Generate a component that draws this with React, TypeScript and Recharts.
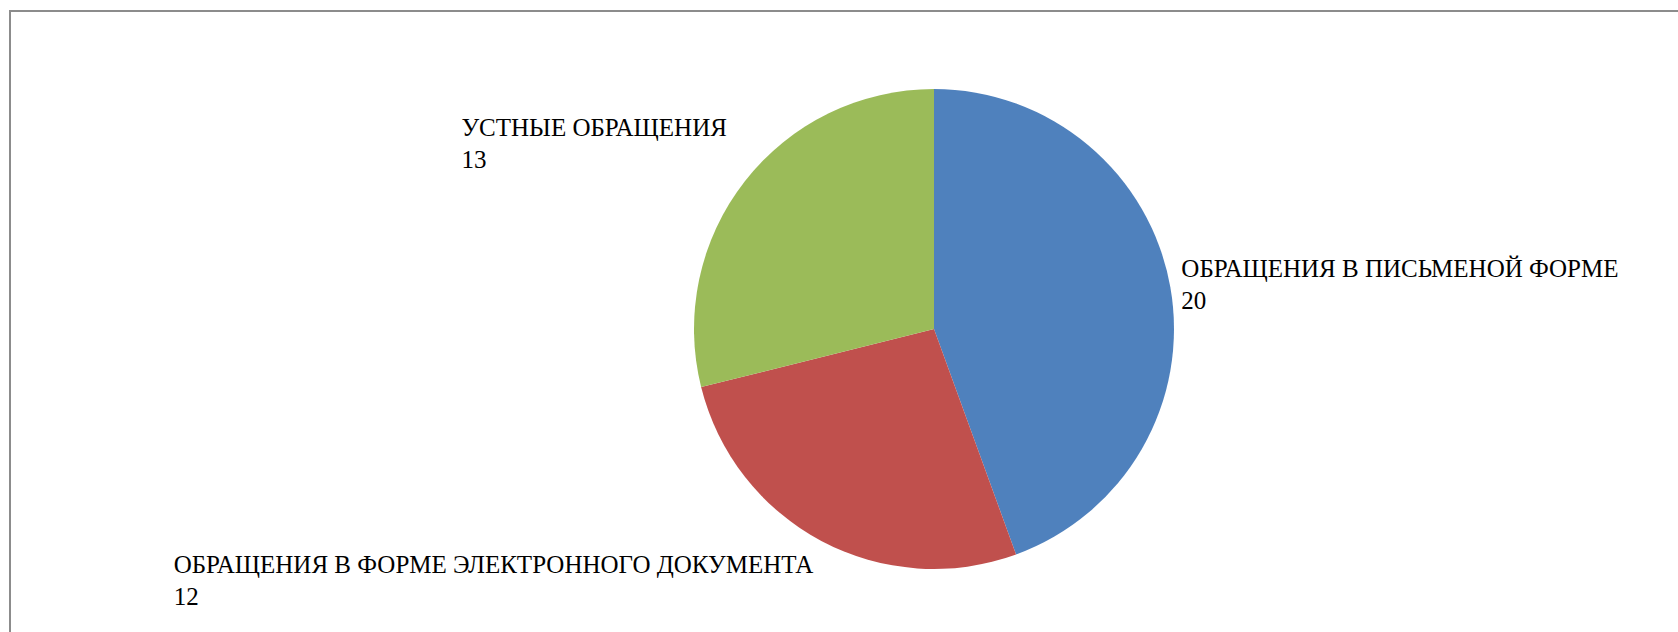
import { PieChart, Pie, Cell } from "recharts";

const categories = [
  "ОБРАЩЕНИЯ В ПИСЬМЕНОЙ ФОРМЕ",
  "ОБРАЩЕНИЯ В ФОРМЕ ЭЛЕКТРОННОГО ДОКУМЕНТА",
  "УСТНЫЕ ОБРАЩЕНИЯ",
];
const values = [20, 12, 13];
const colors = ["#4F81BD", "#C0504D", "#9BBB59"];

const data = categories.map((name, i) => ({ name, value: values[i] }));

const RAD = Math.PI / 180;
const FONT = "Liberation Serif";
const FONT_SIZE = 25;

let ctx: CanvasRenderingContext2D | null = null;
function measure(s: string) {
  if (!ctx) ctx = document.createElement("canvas").getContext("2d");
  if (!ctx) return s.length * FONT_SIZE * 0.6;
  ctx.font = `${FONT_SIZE}px "${FONT}"`;
  return ctx.measureText(s).width;
}

// Excel-style "outside end" label: name on first line, value below, left-aligned block
function renderLabel(props: any) {
  const { cx, cy, midAngle, outerRadius, name, value } = props;
  const cos = Math.cos(-midAngle * RAD);
  const sin = Math.sin(-midAngle * RAD);
  const px = cx + outerRadius * cos;
  const py = cy + outerRadius * sin;
  const w = Math.max(measure(name), measure(String(value)));
  const x = cos >= 0 ? px + 11 : px - (sin < 0 ? 18 : 8) - w;
  const lh = 32;
  let y0: number; // baseline of first line
  if (sin < -0.5) y0 = py - 45; // upper slice, block above
  else if (sin > 0.5) y0 = py + 32; // lower slice, block below
  else y0 = py - 10;
  return (
    <text x={x} y={y0} textAnchor="start" fill="#000" fontFamily={FONT} fontSize={FONT_SIZE}>
      <tspan x={x}>{name}</tspan>
      <tspan x={x} dy={lh}>{value}</tspan>
    </text>
  );
}

export default function App() {
  return (
    <div style={{ position: "fixed", left: 0, top: 0, width: 1678, height: 632, overflow: "hidden", background: "#fff" }}>
      <div style={{ position: "absolute", left: 9, top: 10, width: 1700, height: 700, border: "2px solid #8c8c8c" }} />
      <div style={{ position: "absolute", left: 0, top: 0 }}>
        <PieChart width={1678} height={632} margin={{ top: 0, right: 0, bottom: 0, left: 0 }}>
          <Pie
            data={data}
            dataKey="value"
            nameKey="name"
            cx={934}
            cy={329}
            outerRadius={240}
            startAngle={90}
            endAngle={-270}
            stroke="none"
            label={renderLabel}
            labelLine={false}
            isAnimationActive={false}
          >
            {data.map((d, i) => (
              <Cell key={d.name} fill={colors[i]} />
            ))}
          </Pie>
        </PieChart>
      </div>
    </div>
  );
}
